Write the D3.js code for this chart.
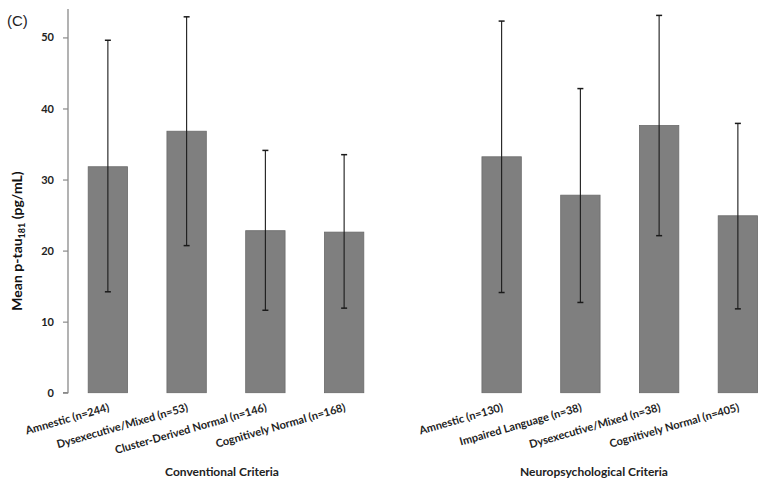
<!DOCTYPE html>
<html><head><meta charset="utf-8">
<script src="https://cdn.jsdelivr.net/npm/d3@7"></script>
<style>body{margin:0;background:#fff}svg{display:block}</style>
</head><body>
<svg id="c" width="767" height="487"></svg>
<script>
// Data
const categories = ["Amnestic (n=244)","Dysexecutive/Mixed (n=53)","Cluster-Derived Normal (n=146)","Cognitively Normal (n=168)","",
  "Amnestic (n=130)","Impaired Language (n=38)","Dysexecutive/Mixed (n=38)","Cognitively Normal (n=405)"];
const means = [31.8, 36.8, 22.8, 22.6, null, 33.2, 27.8, 37.6, 24.9];
const errUpper = [49.6, 52.9, 34.1, 33.5, null, 52.3, 42.8, 53.1, 37.9];
const errLower = [14.2, 20.7, 11.6, 11.9, null, 14.1, 12.7, 22.1, 11.8];
const yTicks = [0, 10, 20, 30, 40, 50];
const groupTitles = ["Conventional Criteria", "Neuropsychological Criteria"];

const svg = d3.select("#c");
const x = d3.scaleBand().domain(d3.range(categories.length)).range([68.5, 777.25]).paddingInner(0.5).paddingOuter(0.25);
const y = d3.scaleLinear().domain([0, 54]).range([392.7, 9]);

// y axis
const yAxis = d3.axisLeft(y).tickValues(yTicks).tickSize(5).tickPadding(9);
const gy = svg.append("g").attr("transform", "translate(68,0)").call(yAxis);
gy.select(".domain").attr("stroke", "#8a8a8a").attr("stroke-width", 1.3).attr("d", `M-5,${y(0)}H0V${y(54)}`);
gy.selectAll(".tick line").attr("stroke", "#8a8a8a").attr("stroke-width", 1.2);
gy.selectAll(".tick text").attr("font-family", "Lato, 'Open Sans', sans-serif").attr("font-weight", "bold")
  .attr("font-size", 11).attr("fill", "#222");

const data = categories.map((c, i) => ({c, i, m: means[i], hi: errUpper[i], lo: errLower[i]})).filter(d => d.m !== null);

// bars
svg.append("g").selectAll("rect").data(data).join("rect")
  .attr("x", d => x(d.i)).attr("width", x.bandwidth())
  .attr("y", d => y(d.m)).attr("height", d => y(0) - y(d.m))
  .attr("fill", "#7f7f7f").attr("stroke", "#6a6a6a").attr("stroke-width", 0.8);

// error bars
const eb = svg.append("g").attr("stroke", "#1a1a1a").attr("stroke-width", 1.1);
data.forEach(d => {
  const cx = x(d.i) + x.bandwidth() / 2;
  eb.append("line").attr("x1", cx).attr("x2", cx).attr("y1", y(d.hi)).attr("y2", y(d.lo));
  [d.hi, d.lo].forEach(v => eb.append("line").attr("x1", cx - 3).attr("x2", cx + 3).attr("y1", y(v)).attr("y2", y(v)).attr("stroke-width", 1.5));
});

// category labels
svg.append("g").selectAll("text").data(data).join("text")
  .attr("transform", d => `translate(${x(d.i) + x.bandwidth() / 2 + 2},${y(0) + 18}) rotate(-16)`)
  .attr("text-anchor", "end")
  .attr("font-family", "Lato, 'Open Sans', sans-serif").attr("font-weight", "bold").attr("font-size", 11)
  .attr("fill", "#222").text(d => d.c);

// group titles
const gx = [222, 594];
groupTitles.forEach((t, i) => svg.append("text").attr("x", gx[i]).attr("y", 476).attr("text-anchor", "middle")
  .attr("font-family", "Lato, 'Open Sans', sans-serif").attr("font-weight", "bold").attr("font-size", 12)
  .attr("fill", "#222").text(t));

// y label
const yl = svg.append("text").attr("transform", "translate(22,241) rotate(-90)").attr("text-anchor", "middle")
  .attr("font-family", "Lato, 'Open Sans', sans-serif").attr("font-weight", "bold").attr("font-size", 14).attr("fill", "#111");
yl.append("tspan").text("Mean p-tau");
yl.append("tspan").attr("font-size", 9).attr("dy", 3).text("181");
yl.append("tspan").attr("dy", -3).text(" (pg/mL)");

// panel letter
svg.append("text").attr("x", 7).attr("y", 26).attr("font-family", "'Liberation Sans', Arial, sans-serif")
  .attr("font-size", 15).attr("fill", "#222").text("(C)");
</script>
</body></html>
